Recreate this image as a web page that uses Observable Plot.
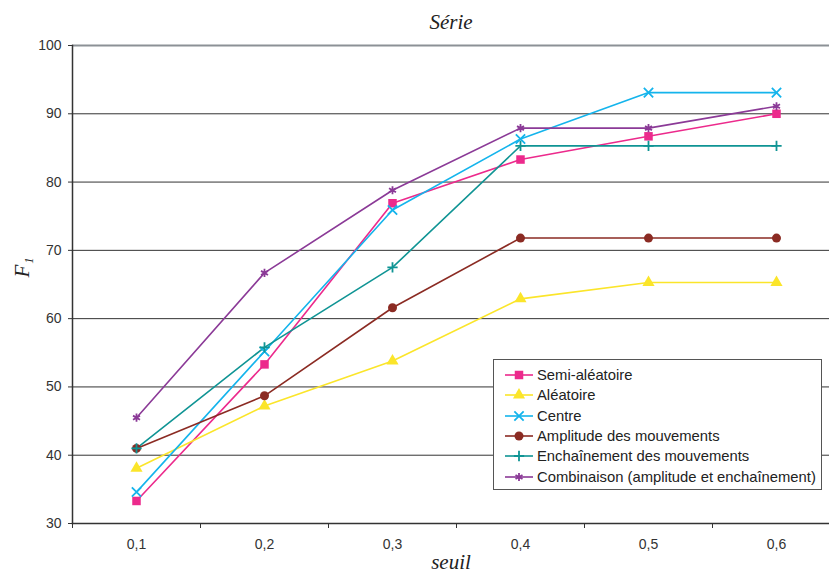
<!DOCTYPE html>
<html>
<head>
<meta charset="utf-8">
<script src="https://cdn.jsdelivr.net/npm/d3@7"></script>
<script src="https://cdn.jsdelivr.net/npm/@observablehq/plot@0.6"></script>
<style>
  html, body { margin: 0; padding: 0; background: white; }
  #wrap { position: relative; width: 829px; height: 573px; overflow: hidden; }
  #legend { position: absolute; left: 493px; top: 359px; width: 329px; height: 131px;
    border: 1px solid #555; background: white; box-sizing: border-box;
    font-family: "Liberation Sans", Arial, sans-serif; font-size: 14.8px; color: #222; padding-top: 5px; }
  .row { display: flex; align-items: center; height: 20.3px; white-space: nowrap; }
  .row svg { margin-left: 10px; margin-right: 3px; flex: none; }
</style>
</head>
<body>
<div id="wrap"><div id="legend"></div></div>
<script>
const seuils = [0.1, 0.2, 0.3, 0.4, 0.5, 0.6];
const seriesNames = ["Semi-aléatoire", "Aléatoire", "Centre", "Amplitude des mouvements", "Enchaînement des mouvements", "Combinaison (amplitude et enchaînement)"];
const semiAleatoire = [33.3, 53.3, 76.9, 83.3, 86.7, 90.0];
const aleatoire     = [38.1, 47.2, 53.8, 62.9, 65.3, 65.3];
const centre        = [34.6, 55.2, 75.9, 86.3, 93.1, 93.1];
const amplitude     = [41.0, 48.7, 61.6, 71.8, 71.8, 71.8];
const enchainement  = [41.0, 55.8, 67.5, 85.3, 85.3, 85.3];
const combinaison   = [45.5, 66.7, 78.8, 87.9, 87.9, 91.1];
const yTicks = [30, 40, 50, 60, 70, 80, 90, 100];
const xBoundaries = [0.05, 0.15, 0.25, 0.35, 0.45, 0.55, 0.65];

const colors  = ["#ec2a8c", "#fbe52a", "#14b4ec", "#8b2b23", "#0f9494", "#8b3a97"];
const symbols = ["square", "triangle", "times", "circle", "plus", "asterisk"];
const filled  = [true, true, false, true, false, false];
const radii   = [4.8, 4.5, 4.3, 4.5, 3.4, 3.8];
const values  = [semiAleatoire, aleatoire, centre, amplitude, enchainement, combinaison];

const series = seriesNames.map((name, i) => ({
  name, color: colors[i], symbol: symbols[i], filled: filled[i], r: radii[i],
  rows: seuils.map((s, j) => ({seuil: s, f1: values[i][j]}))
}));

const serif = "'Liberation Serif', 'DejaVu Serif', serif";

const lineMarks = series.map(s => Plot.line(s.rows, {x: "seuil", y: "f1", stroke: s.color, strokeWidth: 1.6}));
const dotMarks = series.map(s => Plot.dot(s.rows, {
  x: "seuil", y: "f1", symbol: () => s.symbol, r: s.r,
  fill: s.filled ? s.color : "none", stroke: s.filled ? "none" : s.color, strokeWidth: 1.8
}));

const chart = Plot.plot({
  width: 829, height: 573,
  marginLeft: 72, marginRight: 0, marginTop: 45, marginBottom: 50,
  x: {domain: [0.05, 0.65], range: [72, 840]},
  y: {domain: [30, 100]},
  symbol: {type: "identity"},
  style: {fontFamily: "'Liberation Sans', Arial, sans-serif", fontSize: "14px", color: "#333", background: "white"},
  marks: [
    Plot.gridY(yTicks.filter(d => d > 30 && d < 100), {stroke: "#333", strokeOpacity: 1, strokeWidth: 1}),
    Plot.ruleY([100], {stroke: "#8c9196", strokeWidth: 2}),
    Plot.axisY(yTicks, {tickSize: 4, tickPadding: 7, label: null, stroke: "#333", fontSize: 14}),
    Plot.axisX(xBoundaries, {tickSize: 5, tickFormat: () => "", label: null, stroke: "#333"}),
    Plot.axisX(seuils, {tickSize: 0, tickPadding: 16, label: null, tickFormat: d => d.toFixed(1).replace(".", ","), fontSize: 14}),
    Plot.frame({anchor: "left", stroke: "#333", strokeWidth: 1.5}),
    Plot.frame({anchor: "bottom", stroke: "#333", strokeWidth: 1.5}),
    ...lineMarks,
    ...dotMarks,
    Plot.text(["Série"], {frameAnchor: "top", dy: -23, lineAnchor: "middle", fontStyle: "italic", fontFamily: serif, fontSize: 21, fill: "#222"}),
    Plot.text(["seuil"], {frameAnchor: "bottom", dy: 39, lineAnchor: "middle", fontStyle: "italic", fontFamily: serif, fontSize: 21, fill: "#222"}),
    Plot.text(["F₁"], {frameAnchor: "left", dx: -50, dy: -7, rotate: -90, lineAnchor: "middle", fontStyle: "italic", fontFamily: serif, fontSize: 21, fill: "#222"})
  ]
});
document.getElementById("wrap").prepend(chart);

// Legend
const legend = d3.select("#legend");
const symMap = {square: d3.symbolSquare, triangle: d3.symbolTriangle, times: d3.symbolTimes,
  circle: d3.symbolCircle, plus: d3.symbolPlus, asterisk: d3.symbolAsterisk};
series.forEach(s => {
  const row = legend.append("div").attr("class", "row");
  const svg = row.append("svg").attr("width", 30).attr("height", 14);
  svg.append("line").attr("x1", 1).attr("x2", 29).attr("y1", 7).attr("y2", 7)
    .attr("stroke", s.color).attr("stroke-width", 1.6);
  svg.append("path").attr("transform", "translate(15,7)")
    .attr("d", d3.symbol(symMap[s.symbol], Math.PI * s.r * s.r)())
    .attr("fill", s.filled ? s.color : "none")
    .attr("stroke", s.filled ? "none" : s.color).attr("stroke-width", 1.8);
  row.append("span").text(s.name);
});
</script>
</body>
</html>
